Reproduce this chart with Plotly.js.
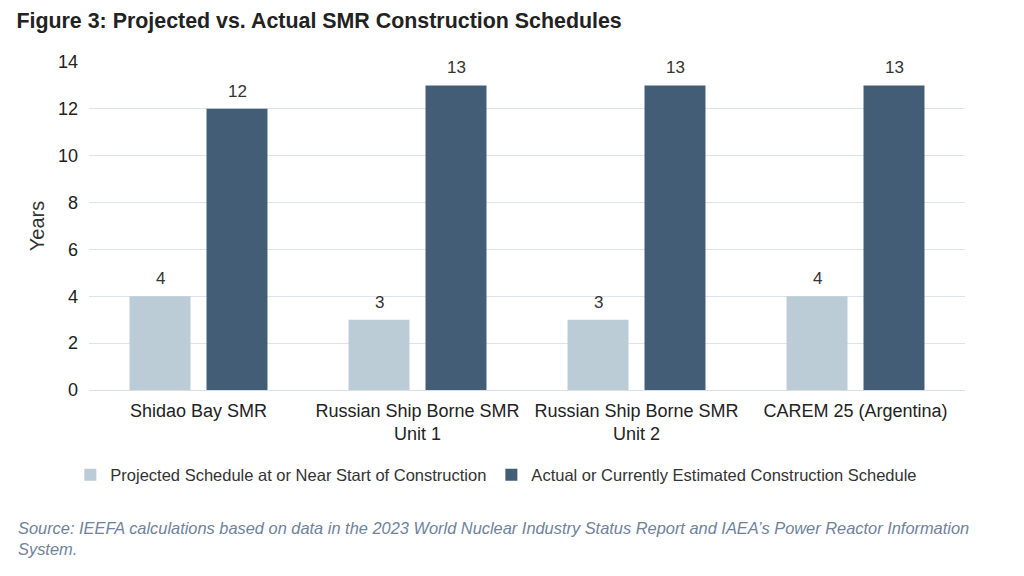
<!DOCTYPE html>
<html><head><meta charset="utf-8">
<script src="https://cdn.plot.ly/plotly-3.0.1.min.js"></script>
<style>html,body{margin:0;padding:0;background:#fff}#c{width:1024px;height:576px}</style>
</head><body><div id="c"></div>
<script>
const categories = ["Shidao Bay SMR", "Russian Ship Borne SMR<br>Unit 1", "Russian Ship Borne SMR<br>Unit 2", "CAREM 25 (Argentina)"];
const projected = [4, 3, 3, 4];
const actual = [12, 13, 13, 13];
const seriesNames = ["Projected Schedule at or Near Start of Construction", "Actual or Currently Estimated Construction Schedule"];
const yTicks = [0, 2, 4, 6, 8, 10, 12, 14];

const F = "Liberation Sans, Arial, sans-serif";
const traces = [
  {type:'bar', name:seriesNames[0], x:categories, y:projected, marker:{color:'#BBCCD7'}},
  {type:'bar', name:seriesNames[1], x:categories, y:actual, marker:{color:'#435D77'}}
];
const labelAnn = [];
[projected, actual].forEach((vals, si) => {
  vals.forEach((v, i) => {
    labelAnn.push({xref:'x', yref:'y', x:categories[i], y:v, text:String(v), showarrow:false,
      xshift: si === 0 ? -38.5 : 38.5, yshift:6, yanchor:'bottom',
      font:{family:F,size:17,color:'#333'}});
  });
});
const layout = {
  width:1024, height:576,
  margin:{l:89, r:59, t:62, b:186},
  paper_bgcolor:'#fff', plot_bgcolor:'#fff',
  font:{family:F, size:16, color:'#333'},
  barmode:'group', bargap:0.297, bargroupgap:0.208,
  showlegend:true,
  legend:{orientation:'h', x:0.465, xanchor:'center', y:-0.259, yanchor:'middle', font:{family:F,size:16.5,color:'#333'}, traceorder:'normal'},
  xaxis:{type:'category', showline:true, linecolor:'#D9DFE5', linewidth:1, ticks:'', ticklabelstandoff:4, tickfont:{family:F,size:18,color:'#222'}, fixedrange:true},
  yaxis:{range:[0,14], tickvals:yTicks, showgrid:true, gridcolor:'#DCE3EA', gridwidth:1, zeroline:false, ticks:'', ticklabelstandoff:10,
         tickfont:{family:F,size:18,color:'#222'},
         title:{text:'Years', font:{family:F,size:20,color:'#333'}, standoff:7}},
  title:{text:'<b>Figure 3: Projected vs. Actual SMR Construction Schedules</b>', x:0.016, xanchor:'left', y:0.965, yanchor:'middle',
         font:{family:F,size:21.4,color:'#222'}},
  annotations:labelAnn.concat([
    {xref:'paper', yref:'paper', x:-0.0833, xanchor:'left', y:-0.387, yanchor:'top',
     text:'Source: IEEFA calculations based on data in the 2023 World Nuclear Industry Status Report and IAEA’s Power Reactor Information<br>System.',
     showarrow:false, align:'left', font:{family:F,size:16.4,color:'#6F829B',style:'italic'}}
  ])
};
Plotly.newPlot('c', traces, layout, {displayModeBar:false, staticPlot:true});
</script></body></html>
